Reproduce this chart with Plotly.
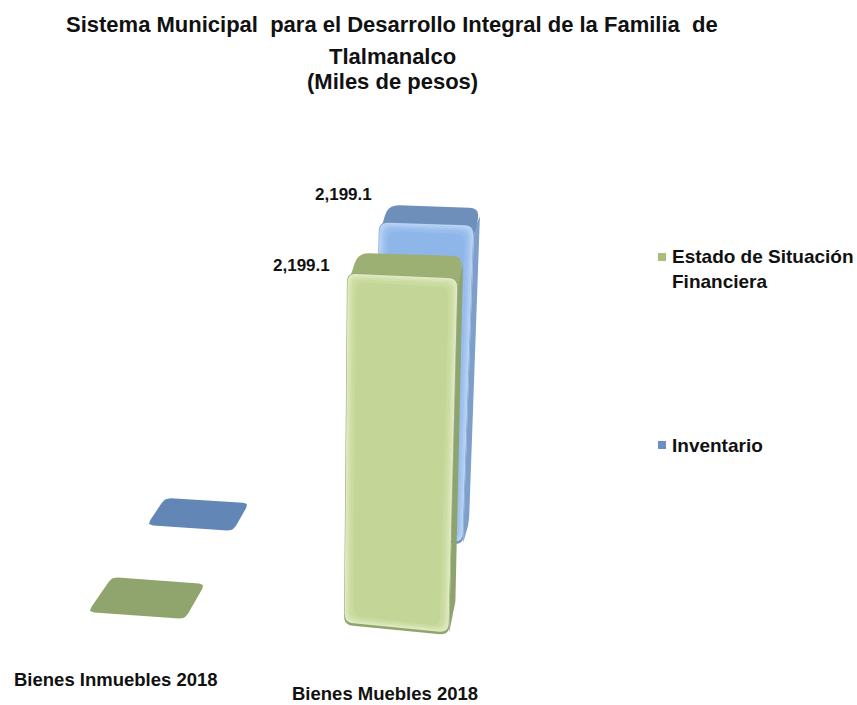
import numpy as np
import plotly.graph_objects as go

# ---- data ----
categories = ["Bienes Inmuebles 2018", "Bienes Muebles 2018"]
series_names = ["Estado de Situación<br>Financiera", "Inventario"]
estado = [0, 2199.1]
inventario = [0, 2199.1]
title_lines = ["Sistema Municipal  para el Desarrollo Integral de la Familia  de", "Tlalmanalco", "(Miles de pesos)"]

# ---- scene geometry (pixels of the 3-D projection) ----
W, H = 857, 705
VREF = 2199.1
Y0 = 630.0
K = VREF / 365.0      # value units per pixel
X0, XU = 146.0, 249.0 # category 0 position, pixels per category

def to_x(px):
    return (np.asarray(px, float) - X0) / XU

def to_y(py):
    return (Y0 - np.asarray(py, float)) * K

# corners: front-left, front-right, back-right, back-left
FOOT = {
    ("g", 0): ([88, 185, 205, 112], [612, 619, 584, 577]),
    ("b", 0): ([147, 233, 249, 165], [525, 531, 503, 498]),
    ("g", 1): ([344, 449, 456, 352], [625, 635, 598, 592]),
    ("b", 1): ([372, 463, 469, 380], [530, 545, 522, 508]),
}
TOP = {
    "g": ([347, 458, 463, 358], [273, 278, 256, 253]),
    "b": ([379, 474, 480, 388], [222, 225, 208, 205]),
}
STYLE = {
    "g": dict(top="#9db074", flat="#8fa56d", side="#8fa46d", dark="#8ea56e",
              front=["#e0eac2", "#d8e4b4", "#d0dfa9", "#cadb9f", "#c4d697"]),
    "b": dict(top="#6e8fba", flat="#6287b6", side="#7e9fca", dark="#6f95c8",
              front=["#b9d3f4", "#aecbf2", "#a2c3ef", "#98bdec", "#8fb6e9"]),
}
# (side/top inset, bottom inset) of each step of the front bevel
BEVEL = [(0.5, 2.5), (2, 4), (4, 5.5), (6, 7), (9, 9)]
TOP_OVERLAP = 14  # the top face continues under the rounded front corners

def rounded(xs, ys, r=6, n=6):
    xs, ys = np.asarray(xs, float), np.asarray(ys, float)
    ox, oy = [], []
    m = len(xs)
    for i in range(m):
        p = np.array([xs[i], ys[i]])
        a = np.array([xs[i - 1], ys[i - 1]])
        b = np.array([xs[(i + 1) % m], ys[(i + 1) % m]])
        la, lb = np.linalg.norm(a - p), np.linalg.norm(b - p)
        rr = min(r, la / 2.01, lb / 2.01)
        if rr < 1e-6:
            ox.append(p[0]); oy.append(p[1])
            continue
        s = p + (a - p) / la * rr
        e = p + (b - p) / lb * rr
        for t in np.linspace(0, 1, n):
            q = (1 - t) ** 2 * s + 2 * t * (1 - t) * p + t ** 2 * e
            ox.append(q[0]); oy.append(q[1])
    ox.append(ox[0]); oy.append(oy[0])
    return np.array(ox), np.array(oy)

def inset(xs, ys, d, db):
    xs, ys = np.asarray(xs, float), np.asarray(ys, float)
    cx, cy = xs.mean(), ys.mean()
    ny = np.where(ys > cy, ys - db, ys + d)
    return xs - np.sign(xs - cx) * d, ny

fig = go.Figure()

def poly(xs, ys, color, r=6):
    rx, ry = rounded(xs, ys, r)
    fig.add_trace(go.Scatter(x=to_x(rx), y=to_y(ry), mode="lines", fill="toself",
                             fillcolor=color, line=dict(width=0, color=color),
                             hoverinfo="skip", showlegend=False))

def draw_bar(key, idx, value):
    bx, by = map(np.asarray, FOOT[(key, idx)])
    tx, ty = map(np.asarray, TOP[key])
    f = value / VREF
    px = bx + f * (tx - bx)
    py = by + f * (ty - by)
    st = STYLE[key]
    if value == 0:
        poly(px, py, st["flat"], 6)
        return
    # right side
    poly([px[1], px[2], bx[2], bx[1]], [py[1] + 6, py[2] + 6, by[2], by[1]], st["side"], 5)
    # top, running on under the front face
    tpy = np.array([py[0] + TOP_OVERLAP, py[1] + TOP_OVERLAP, py[2], py[3]])
    poly(px, tpy, st["top"], 11)
    # front with stepped bevel
    fx = [px[0], px[1], bx[1], bx[0]]
    fy = [py[0], py[1], by[1], by[0]]
    poly(fx, fy, st["dark"], 9)
    for (d, db), c in zip(BEVEL, st["front"]):
        ix, iy = inset(fx, fy, d, db)
        poly(ix, iy, c, 9)

for key, vals in (("b", inventario), ("g", estado)):
    for i, v in enumerate(vals):
        draw_bar(key, i, v)

# data labels placed relative to the bar tops
LABEL_FONT = dict(family="Liberation Sans", size=17, color="#111111")
ann = []
for key, vals, dx, dy in (("b", inventario, -36, -28), ("g", estado, -46, -8)):
    for i, v in enumerate(vals):
        if v > 0:
            tx, ty = TOP[key]
            ann.append(dict(x=to_x(tx[0] + dx), y=to_y(ty[0] + dy), xref="x", yref="y",
                            text=f"<b>{v:,.1f}</b>", showarrow=False, font=LABEL_FONT))

# category labels
CAT_PX = [(116, 679), (385, 693)]
for c, (lx, ly) in zip(categories, CAT_PX):
    ann.append(dict(x=to_x(lx), y=to_y(ly), xref="x", yref="y", text=f"<b>{c}</b>",
                    showarrow=False, font=dict(family="Liberation Sans", size=18.5, color="#111111")))

# title lines
for t, ly in zip(title_lines, (24, 56, 81)):
    ann.append(dict(x=to_x(392), y=to_y(ly), xref="x", yref="y", text=f"<b>{t}</b>",
                    showarrow=False, font=dict(family="Liberation Sans", size=22, color="#111111")))

# legend
LEG = [(662, 257, "#a7bd7c", 670, 269), (662, 445, "#6a90c2", 670, 445)]
for name, (mx, my, col, tx, tyc) in zip(series_names, LEG):
    fig.add_trace(go.Scatter(x=[to_x(mx)], y=[to_y(my)], mode="markers",
                             marker=dict(symbol="square", size=8, color=col),
                             hoverinfo="skip", showlegend=False))
    ann.append(dict(x=to_x(tx), y=to_y(tyc), xref="x", yref="y", xanchor="left", align="left",
                    text=f"<b>{name}</b>", showarrow=False,
                    font=dict(family="Liberation Sans", size=19, color="#111111")))

fig.update_layout(
    width=W, height=H, margin=dict(l=0, r=0, t=0, b=0),
    paper_bgcolor="white", plot_bgcolor="white", showlegend=False,
    xaxis=dict(visible=False, range=[float(to_x(0)), float(to_x(W))], fixedrange=True),
    yaxis=dict(visible=False, range=[float(to_y(H)), float(to_y(0))], fixedrange=True),
    annotations=ann,
)
fig.write_html("out.html", config=dict(displayModeBar=False),
               post_script="document.body.style.margin='0';")
